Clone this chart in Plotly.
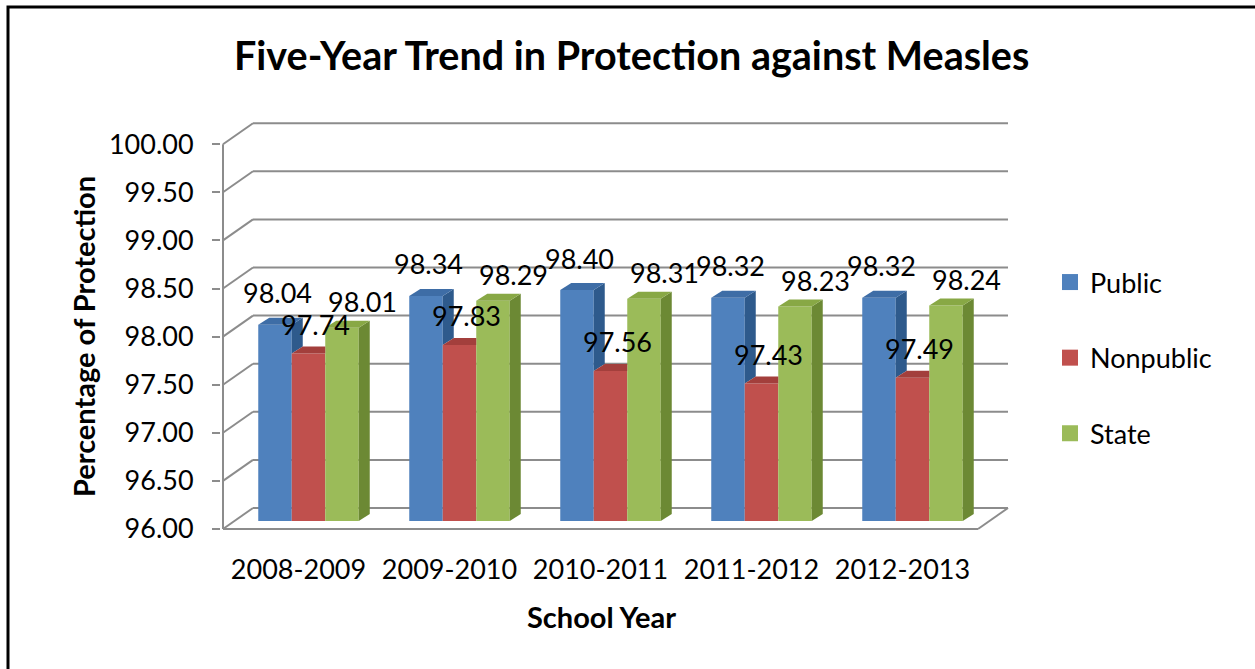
import plotly.graph_objects as go

# ---------------- data ----------------
years = ["2008-2009", "2009-2010", "2010-2011", "2011-2012", "2012-2013"]
public = [98.04, 98.34, 98.40, 98.32, 98.32]
nonpublic = [97.74, 97.83, 97.56, 97.43, 97.49]
state = [98.01, 98.29, 98.31, 98.23, 98.24]
series_names = ["Public", "Nonpublic", "State"]
y_ticks = [96.0, 96.5, 97.0, 97.5, 98.0, 98.5, 99.0, 99.5, 100.0]

# ---------------- styling / geometry (pixels) ----------------
W, H = 1255, 669
FONT = "Lato"
X_LEFT = 223          # front-left corner of the floor
PX_CAT = 151         # px per category
Y_BASE = 529         # px of value 96 on the front plane
PX_UNIT = 96.2       # px per percentage unit
WALL_DX, WALL_DY = 30, 21     # back wall offset
BAR_DX, BAR_DY = 10, 8        # bar front-face offset from front plane
DEP_DX, DEP_DY = 11, 7        # bar depth
PAD = 2

ymin, ymax = y_ticks[0], y_ticks[-1]
dxu, dyu = WALL_DX / PX_CAT, WALL_DY / PX_UNIT
bxu, byu = BAR_DX / PX_CAT, BAR_DY / PX_UNIT
ddx, ddy = DEP_DX / PX_CAT, DEP_DY / PX_UNIT
bw = 33.5 / PX_CAT
n = len(years)

x_lo = -0.5 - PAD / PX_CAT
x_hi = n - 0.5 + dxu + PAD / PX_CAT
y_lo = ymin - PAD / PX_UNIT
y_hi = ymax + dyu + PAD / PX_UNIT
dom_x = [(X_LEFT - PAD) / W, (X_LEFT + (x_hi + 0.5) * PX_CAT) / W]
bot_px = Y_BASE + PAD
top_px = Y_BASE - (y_hi - ymin) * PX_UNIT
dom_y = [(H - bot_px) / H, (H - top_px) / H]

front = ["#4F81BD", "#C0504D", "#9BBB59"]
tops = ["#3E6DA6", "#A33F3C", "#88A845"]
sides = ["#2E5A8C", "#8A2F2D", "#6C8934"]
label_dx = [2, 7, 20]
label_dy = [32, 29, 26]

values = [public, nonpublic, state]

fig = go.Figure()

# front faces as bars
for k, (name, vals) in enumerate(zip(series_names, values)):
    xs = [i + bxu + (k - 1) * bw for i in range(n)]
    fig.add_trace(go.Bar(
        x=xs, y=[v - ymin for v in vals], base=ymin + byu, width=bw,
        name=name, legendgroup=name, showlegend=False,
        marker=dict(color=front[k], line=dict(width=0)),
        customdata=vals, hovertemplate=name + ": %{customdata:.2f}<extra></extra>",
    ))

# 3D side / top faces
for i in range(n):
    for k in range(3):
        v = values[k][i]
        c = i + bxu + (k - 1) * bw
        xl, xr = c - bw / 2, c + bw / 2
        nxt = values[k + 1][i] if k < 2 else None
        lo = ymin if nxt is None else max(ymin, nxt)
        if v > lo:
            px = [xr, xr, xr + ddx, xr + ddx, xr]
            py = [lo + byu, v + byu, v + byu + ddy, lo + byu + ddy, lo + byu]
            fig.add_trace(go.Scatter(x=px, y=py, mode="lines", fill="toself",
                                     fillcolor=sides[k], line=dict(width=0),
                                     showlegend=False, hoverinfo="skip"))
        if nxt is not None and nxt > v:
            px = [xl, xr, xr, xl + ddx, xl]
        else:
            px = [xl, xr, xr + ddx, xl + ddx, xl]
        py = [v + byu, v + byu, v + byu + ddy, v + byu + ddy, v + byu]
        fig.add_trace(go.Scatter(x=px, y=py, mode="lines", fill="toself",
                                 fillcolor=tops[k], line=dict(width=0),
                                 showlegend=False, hoverinfo="skip"))

# legend entries
for k, name in enumerate(series_names):
    fig.add_trace(go.Scatter(x=[None], y=[None], mode="markers", name=name,
                             legendgroup=name,
                             marker=dict(symbol="square", size=16, color=front[k])))

# data labels
for k in range(3):
    for i in range(n):
        v = values[k][i]
        fig.add_annotation(x=i + bxu + (k - 1) * bw, y=v + byu, text=f"{v:.2f}",
                           showarrow=False, xshift=label_dx[k], yshift=label_dy[k],
                           xanchor="center", yanchor="middle",
                           font=dict(family=FONT, size=27, color="black"))

GRID = "#8C8C8C"
shapes = []
for v in y_ticks:
    shapes.append(dict(type="line", xref="x", yref="y", x0=-0.5 + dxu, x1=n - 0.5 + dxu,
                       y0=v + dyu, y1=v + dyu, line=dict(color=GRID, width=2), layer="below"))
    shapes.append(dict(type="line", xref="x", yref="y", x0=-0.5, x1=-0.5 + dxu,
                       y0=v, y1=v + dyu, line=dict(color=GRID, width=2), layer="below"))
shapes.append(dict(type="line", xref="x", yref="y", x0=-0.5, x1=-0.5, y0=ymin, y1=ymax,
                   line=dict(color=GRID, width=2), layer="below"))
shapes.append(dict(type="line", xref="x", yref="y", x0=-0.5, x1=n - 0.5, y0=ymin, y1=ymin,
                   line=dict(color=GRID, width=2), layer="below"))
shapes.append(dict(type="line", xref="x", yref="y", x0=n - 0.5, x1=n - 0.5 + dxu, y0=ymin,
                   y1=ymin + dyu, line=dict(color=GRID, width=2), layer="below"))
# outer frame
shapes.append(dict(type="rect", xref="paper", yref="paper", x0=8 / W, x1=1.05,
                   y0=-0.05, y1=(H - 7) / H, line=dict(color="black", width=3)))

fig.update_layout(
    width=W, height=H, margin=dict(l=0, r=0, t=0, b=0),
    paper_bgcolor="white", plot_bgcolor="rgba(0,0,0,0)",
    barmode="overlay", shapes=shapes,
    font=dict(family=FONT, color="black"),
    xaxis=dict(domain=dom_x, range=[x_lo, x_hi], tickmode="array",
               tickvals=list(range(n)), ticktext=years, showgrid=False, zeroline=False,
               showline=False, ticks="", ticklabelstandoff=20,
               tickfont=dict(family=FONT, size=27, color="black"), automargin=False),
    yaxis=dict(domain=dom_y, range=[y_lo, y_hi], tickmode="array", tickvals=y_ticks,
               ticktext=[f"{v:.2f}" for v in y_ticks], showgrid=False, zeroline=False,
               showline=False, ticks="outside", ticklen=8, tickwidth=2, tickcolor=GRID,
               ticklabelstandoff=13,
               tickfont=dict(family=FONT, size=27, color="black"), automargin=False),
    legend=dict(x=1050 / W, xanchor="left", y=(H - 358) / H, yanchor="middle",
                font=dict(family=FONT, size=27, color="black"), tracegroupgap=37.5,
                bgcolor="rgba(0,0,0,0)"),
    showlegend=True,
)

fig.add_annotation(xref="paper", yref="paper", x=631 / W, y=(H - 54) / H,
                   xanchor="center", yanchor="middle",
                   text="<b>Five-Year Trend in Protection against Measles</b>",
                   showarrow=False, font=dict(family=FONT, size=39.5, color="black"))
fig.add_annotation(xref="paper", yref="paper", x=83 / W, y=(H - 336) / H,
                   xanchor="center", yanchor="middle",
                   text="<b>Percentage of Protection</b>", textangle=-90,
                   showarrow=False, font=dict(family=FONT, size=29, color="black"))
fig.add_annotation(xref="paper", yref="paper", x=601 / W, y=(H - 616) / H,
                   xanchor="center", yanchor="middle",
                   text="<b>School Year</b>",
                   showarrow=False, font=dict(family=FONT, size=29, color="black"))

fig.write_html("out.html",
               config={"displayModeBar": False},
               post_script="document.body.style.margin='0px';"
                           "document.body.style.overflow='hidden';")
